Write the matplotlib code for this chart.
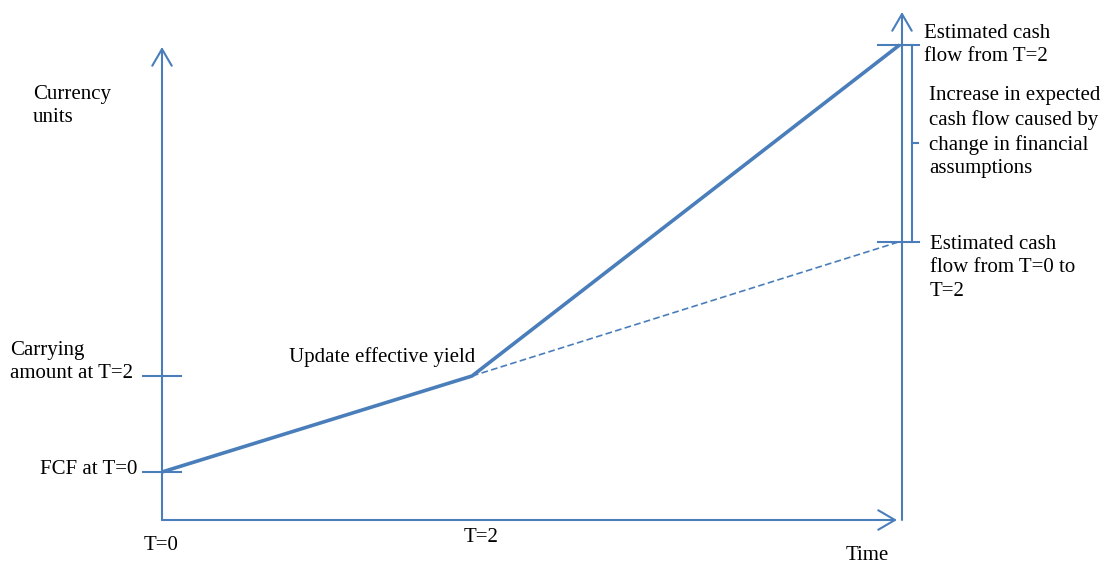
import matplotlib
matplotlib.use("Agg")
import matplotlib.pyplot as plt
from matplotlib.patches import FancyArrowPatch

# ---- data (time in periods, value in currency units) ----
times = [0, 2, 4.76]                 # T=0, T=2, end of horizon
updated_path = [1.0, 3.0, 9.9]       # FCF at T=0 -> carrying at T=2 -> estimated CF from T=2
original_path = [3.0, 5.8]           # from T=2 point to estimated CF from T=0 to T=2
tick_left = [3.0, 1.0]               # carrying amount at T=2, FCF at T=0
tick_right = [9.9, 5.8]
left_labels = ["Carrying\namount at T=2", "FCF at T=0"]
right_labels = ["Estimated cash\nflow from T=2", "Estimated cash\nflow from T=0 to\nT=2"]
bracket_label = "Increase in expected\ncash flow caused by\nchange in financial\nassumptions"

W, H = 1107, 563
BLUE = "#4a7ebb"
FONT = ["Liberation Serif", "DejaVu Serif"]
FS = 15

fig = plt.figure(figsize=(W / 100, H / 100), dpi=100)
ax = fig.add_axes([0, 0, 1, 1])
ax.set_axis_off()
# pixel mapping: T=0 at x=162, 155 px per period; value 0 at y=520, 48 px per unit
ax.set_xlim(-162 / 155, (W - 162) / 155)
ax.set_ylim(-(H - 520) / 48, 520 / 48)

def px(x):
    return (x - 162) / 155

def py(y):
    return (520 - y) / 48

def arrow(p0, p1):
    a = FancyArrowPatch(p0, p1, arrowstyle="->,head_length=12,head_width=7",
                        mutation_scale=1, color=BLUE, lw=1.5, shrinkA=0, shrinkB=0)
    ax.add_patch(a)

# axes
arrow((0, 0), (0, py(47)))                 # left vertical
arrow((0, 0), (px(897), 0))                # time axis
xr = px(902)
arrow((xr, 0), (xr, py(12)))               # right vertical

# ticks on left axis
for v in tick_left:
    ax.plot([px(143), px(181)], [v, v], color=BLUE, lw=1.5)
# ticks on right axis
for v in tick_right:
    ax.plot([px(878), px(919)], [v, v], color=BLUE, lw=1.5)
# bracket
xb = px(912)
ax.plot([xb, xb], [tick_right[1], tick_right[0]], color=BLUE, lw=1.5)
mid = (tick_right[0] + tick_right[1]) / 2
ax.plot([xb, px(918)], [mid, mid], color=BLUE, lw=1.5)

# paths
ax.plot(times, updated_path, color=BLUE, lw=2.6, solid_capstyle="butt")
ax.plot([times[1], times[2]], original_path, color=BLUE, lw=1.2, ls=(0, (4, 2)))

def txt(x, y, s, ha="left"):
    fig.text(x / W, 1 - y / H, s, ha=ha, va="center", family=FONT, fontsize=FS,
             linespacing=1.33)

txt(33, 106, "Currency\nunits")
txt(10, 362, left_labels[0])
txt(137, 470, left_labels[1], ha="right")
txt(289, 357, "Update effective yield")
txt(144, 545, "T=0")
txt(464, 537, "T=2")
txt(846, 555, "Time")
txt(924, 45, right_labels[0])
txt(930, 268, right_labels[1])
txt(929, 132, bracket_label)

fig.savefig("out.png", dpi=100)
